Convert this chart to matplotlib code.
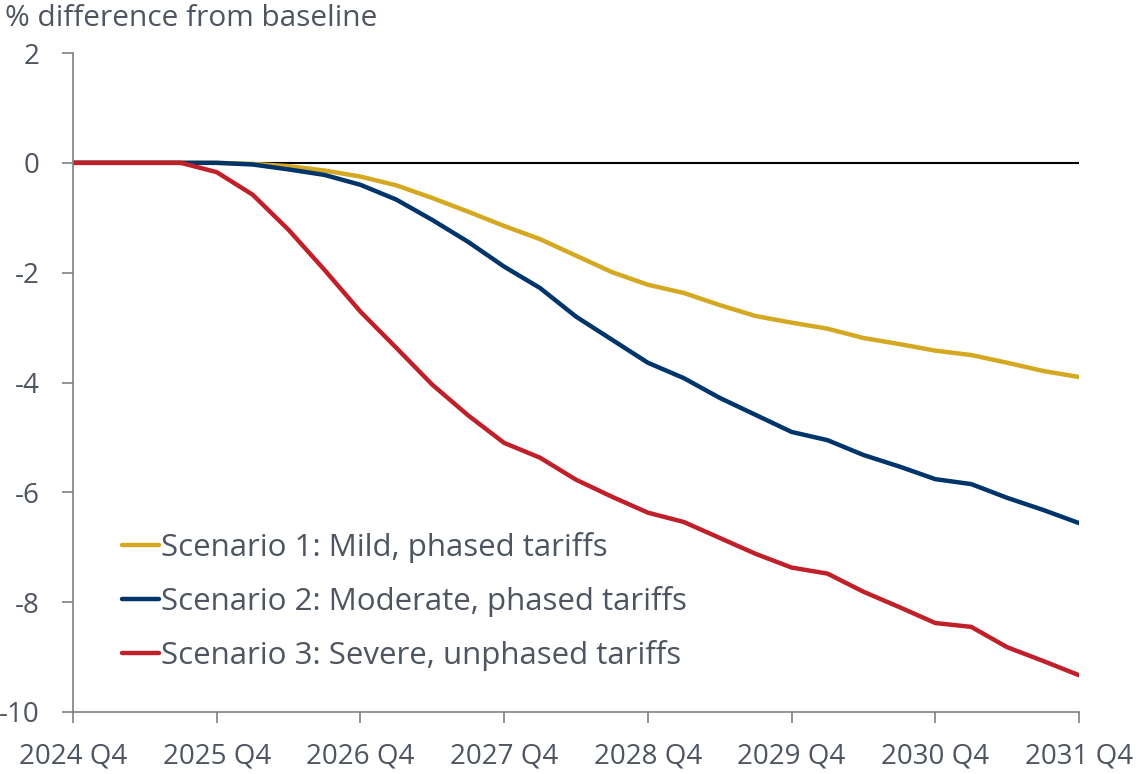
import matplotlib.pyplot as plt
import numpy as np

plt.rcParams["font.family"] = ["Open Sans", "DejaVu Sans"]
plt.rcParams["axes.unicode_minus"] = False

TEXT = "#4d5560"
AXIS = "#7f7f7f"

# quarterly path, 2024 Q4 .. 2031 Q4
quarters = np.arange(29)
year_labels = ["2024 Q4", "2025 Q4", "2026 Q4", "2027 Q4",
               "2028 Q4", "2029 Q4", "2030 Q4", "2031 Q4"]

mild = [0, 0, 0, 0, 0, -0.02, -0.06, -0.14, -0.25, -0.41, -0.64, -0.89,
        -1.15, -1.39, -1.69, -1.99, -2.22, -2.37, -2.59, -2.79, -2.91,
        -3.02, -3.19, -3.30, -3.42, -3.50, -3.64, -3.79, -3.90]
moderate = [0, 0, 0, 0, 0, -0.03, -0.12, -0.22, -0.40, -0.67, -1.04, -1.44,
            -1.89, -2.28, -2.80, -3.22, -3.64, -3.92, -4.28, -4.59, -4.90,
            -5.05, -5.32, -5.53, -5.76, -5.85, -6.10, -6.32, -6.56]
severe = [0, 0, 0, 0, -0.17, -0.58, -1.22, -1.95, -2.71, -3.37, -4.04, -4.60,
          -5.10, -5.37, -5.77, -6.08, -6.37, -6.54, -6.83, -7.12, -7.37,
          -7.48, -7.81, -8.09, -8.38, -8.45, -8.82, -9.07, -9.33]

series = [
    ("Scenario 1: Mild, phased tariffs", mild, "#d4a820"),
    ("Scenario 2: Moderate, phased tariffs", moderate, "#00356b"),
    ("Scenario 3: Severe, unphased tariffs", severe, "#c0202a"),
]

fig = plt.figure(figsize=(11.45, 7.74), dpi=100)
ax = fig.add_axes([73 / 1145, 1 - 712 / 774, 1006 / 1145, 659 / 774])

ax.axhline(0, color="black", linewidth=1.5, zorder=1)
for label, vals, color in series:
    ax.plot(quarters, vals, color=color, linewidth=3.2, label=label,
            solid_capstyle="round", zorder=2)

ax.set_xlim(0, 28)
ax.set_ylim(-10, 2)
ax.set_xticks(np.arange(0, 29, 4))
ax.set_xticklabels(year_labels)
ax.set_yticks(np.arange(-10, 3, 2))

for side in ["top", "right"]:
    ax.spines[side].set_visible(False)
for side in ["left", "bottom"]:
    ax.spines[side].set_color(AXIS)
    ax.spines[side].set_linewidth(1.2)

ax.tick_params(axis="both", colors=AXIS, labelcolor=TEXT, labelsize=20,
               length=8, width=1.2, direction="out")
ax.tick_params(axis="y", pad=16)
ax.tick_params(axis="x", pad=14)

fig.text(5 / 1145, 1 - 18 / 774, "% difference from baseline",
         fontsize=21.5, color=TEXT, ha="left", va="center")

leg = ax.legend(loc="upper left", bbox_to_anchor=(0.049, 0.273), frameon=False,
                fontsize=22.5, handlelength=1.17, handletextpad=0.07,
                labelspacing=0.74, borderpad=0, borderaxespad=0)
for t in leg.get_texts():
    t.set_color(TEXT)

fig.savefig("out.png", dpi=100)
